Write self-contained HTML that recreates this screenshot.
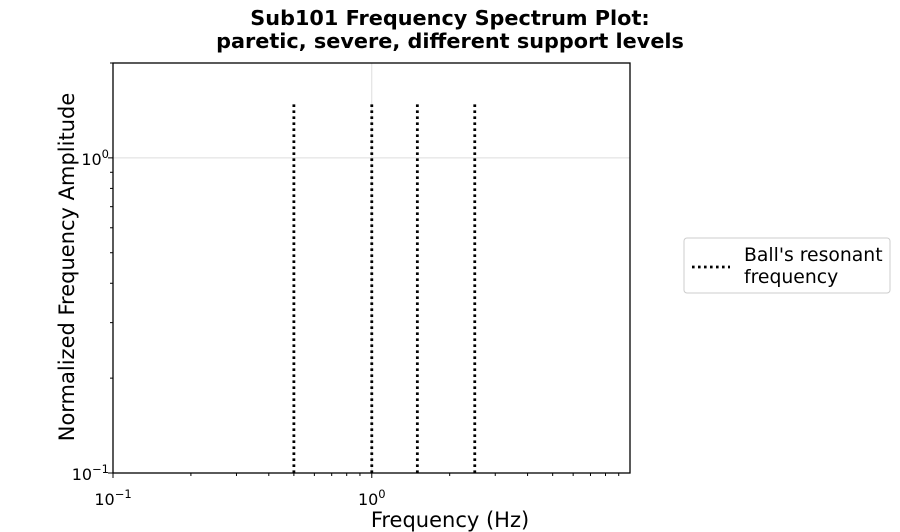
<!DOCTYPE html>
<html><head><meta charset="utf-8"><style>
body{margin:0;background:#fff;}
svg{display:block;font-family:"DejaVu Sans","Liberation Sans",sans-serif;}
</style></head><body>
<svg id="chart" width="900" height="532" viewBox="0 0 900 532" xmlns="http://www.w3.org/2000/svg">
<text x="450" y="25" text-anchor="middle" font-size="20.8" font-weight="bold">Sub101 Frequency Spectrum Plot:</text>
<text x="450" y="48" text-anchor="middle" font-size="20.8" font-weight="bold">paretic, severe, different support levels</text>
<g id="grid"></g>
<g id="marks"></g>
<rect x="113" y="63" width="517" height="410" fill="none" stroke="#000" stroke-width="1.3"/>
<g id="ticks"></g>
<text x="450" y="527" text-anchor="middle" font-size="21">Frequency (Hz)</text>
<text transform="translate(74,267) rotate(-90)" text-anchor="middle" font-size="21">Normalized Frequency Amplitude</text>
<g>
<rect x="684" y="238" width="206" height="55" rx="3" fill="#fff" stroke="#ccc" stroke-width="1"/>
<line x1="692" y1="267" x2="730" y2="267" stroke="#000" stroke-width="2.8" stroke-dasharray="2.6,3.4"/>
<text x="744" y="261" font-size="18.8">Ball's resonant</text>
<text x="744" y="283" font-size="18.8">frequency</text>
</g>
</svg>
<script>
const resonantFreqs = [0.5, 1.0, 1.5, 2.5];
const lineTop = [1.48];
const xDomain = [0.1, 9.95];
const yDomain = [0.1, 2.0];
const L=113,R=630,T=63,B=473;
const NS='http://www.w3.org/2000/svg';
function xs(v){return L+(Math.log10(v)-Math.log10(xDomain[0]))/(Math.log10(xDomain[1])-Math.log10(xDomain[0]))*(R-L);}
function ys(v){return B-(Math.log10(v)-Math.log10(yDomain[0]))/(Math.log10(yDomain[1])-Math.log10(yDomain[0]))*(B-T);}
function mk(tag,attrs,parent){const e=document.createElementNS(NS,tag);for(const k in attrs)e.setAttribute(k,attrs[k]);parent.appendChild(e);return e;}
const grid=document.getElementById('grid'),marks=document.getElementById('marks'),ticks=document.getElementById('ticks');
[1].forEach(v=>{
 const g1=mk('line',{x1:xs(v),x2:xs(v),y1:T,y2:B,stroke:'#ddd','stroke-width':1},grid);
 
 
 const g2=mk('line',{x1:L,x2:R,y1:ys(v),y2:ys(v),stroke:'#ddd','stroke-width':1},grid);
 
 
});
resonantFreqs.forEach(f=>{
 const l=mk('line',{x1:xs(f),x2:xs(f),y1:ys(yDomain[0]),y2:ys(lineTop[0]),stroke:'#000','stroke-width':2.8,'stroke-dasharray':'2.6,3.4'},marks);
 
 
});
for(let d=-1;d<=0;d++){for(let m=1;m<10;m++){const v=m*Math.pow(10,d);if(v>xDomain[1])continue;const x=xs(v);
 const t=mk('line',{x1:x,x2:x,y1:B,y2:B+(m==1?5:3),stroke:'#000','stroke-width':1},ticks);
 
 
 if(m==1){const tx=mk('text',{x:x,y:B+32,'text-anchor':'middle','font-size':16},ticks);tx.innerHTML='10<tspan dy="-7" font-size="11.5">'+(d<0?'\u2212'+(-d):d)+'</tspan>';
  
  }
}}
for(let d=-1;d<=0;d++){for(let m=1;m<10;m++){const v=m*Math.pow(10,d);if(v>yDomain[1])continue;const y=ys(v);
 const t=mk('line',{x1:L-(m==1?5:3),x2:L,y1:y,y2:y,stroke:'#000','stroke-width':1},ticks);
 
 
 if(m==1){const tx=mk('text',{x:L-4,y:y+7,'text-anchor':'end','font-size':16},ticks);tx.innerHTML='10<tspan dy="-7" font-size="11.5">'+(d<0?'\u2212'+(-d):d)+'</tspan>';
  
  }
}}
</script>
</body></html>
